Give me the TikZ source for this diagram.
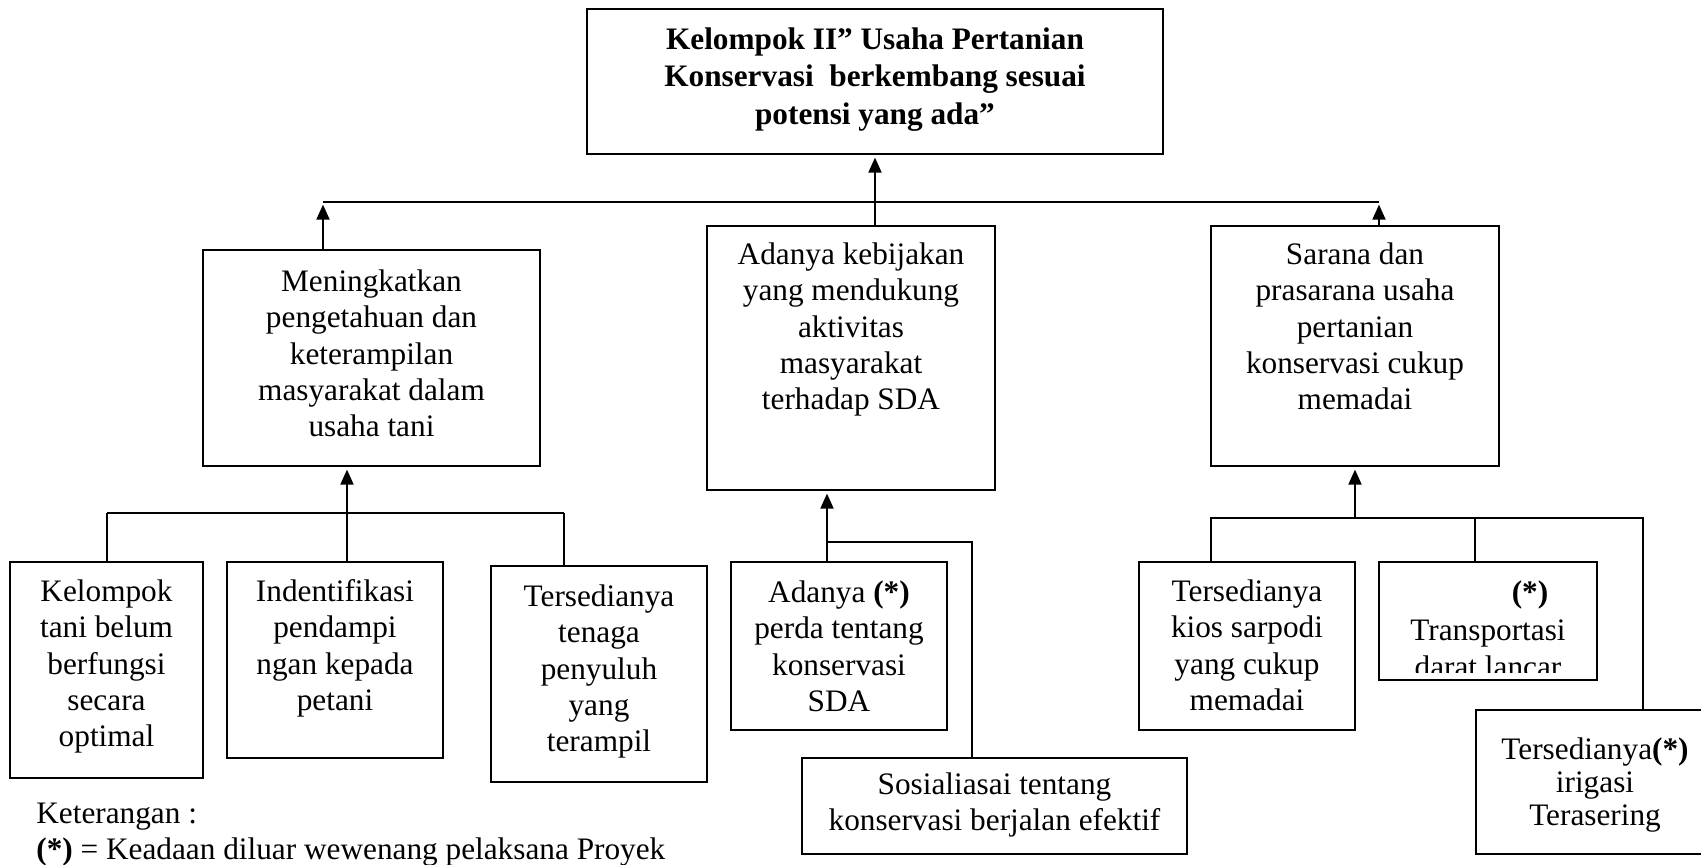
\documentclass[tikz,border=0pt]{standalone}
\usepackage{fontspec}
\setmainfont{Liberation Serif}
\usetikzlibrary{arrows.meta,fit,calc}

% fixed-height strut so that every text block has a known first-line top
\newcommand{\lnstrut}{\rule{0pt}{14.4pt}}
\newcommand{\starmark}{\textbf{(*)}}

\tikzset{
  frame/.style={draw, line width=1.1pt, inner sep=0pt},
  txt/.style={inner sep=0pt, align=center, anchor=north,
              font=\fontsize{17.8}{20.7}\selectfont},
  conn/.style={line width=1.1pt},
  barline/.style={line width=1.7pt},
  arr/.style={conn, -{Triangle[length=0.3cm,width=0.26cm]}, shorten >=1.5pt},
}

\begin{document}
\begin{tikzpicture}[x=0.02cm, y=-0.02cm]
\useasboundingbox (0,0) rectangle (1701,865);
\clip (0,0) rectangle (1701,865);
\fill[white] (0,0) rectangle (1701,865);

% ---------- goal ----------
\node[frame, fit={(587,9) (1163,154)}] (top) {};
\node[txt, font=\bfseries\fontsize{17.8}{21.3}\selectfont] (topT)
  at ($(top.north)+(0,15.7)$)
  {\lnstrut Kelompok II” Usaha Pertanian\\Konservasi~ berkembang sesuai\\potensi yang ada”};

% ---------- second level ----------
\node[frame, fit={(203,250) (540,466)}] (lft) {};
\node[txt] (lftT) at ($(lft.north)+(0,16.7)$)
  {\lnstrut Meningkatkan\\pengetahuan dan\\keterampilan\\masyarakat dalam\\usaha tani};

\node[frame, fit={(707,226) (995,490)}] (mid) {};
\node[txt] (midT) at ($(mid.north)+(0,13.7)$)
  {\lnstrut Adanya kebijakan\\yang mendukung\\aktivitas\\masyarakat\\terhadap SDA};

\node[frame, fit={(1211,226) (1499,466)}] (rgt) {};
\node[txt] (rgtT) at ($(rgt.north)+(0,13.7)$)
  {\lnstrut Sarana dan\\prasarana usaha\\pertanian\\konservasi cukup\\memadai};

% ---------- third level ----------
\node[frame, fit={(10,562) (203,778)}] (kel) {};
\node[txt] (kelT) at ($(kel.north)+(0,14.7)$)
  {\lnstrut Kelompok\\tani belum\\berfungsi\\secara\\optimal};

\node[frame, fit={(227,562) (443,758)}] (ind) {};
\node[txt] (indT) at ($(ind.north)+(0,14.7)$)
  {\lnstrut Indentifikasi\\pendampi\\ngan kepada\\petani};

\node[frame, fit={(491,566) (707,782)}] (ter) {};
\node[txt] (terT) at ($(ter.north)+(0,15.7)$)
  {\lnstrut Tersedianya\\tenaga\\penyuluh\\yang\\terampil};

\node[frame, fit={(731,562) (947,730)}] (ada) {};
\node[txt] (adaT) at ($(ada.north)+(0,15.7)$)
  {\lnstrut Adanya \starmark\\perda tentang\\konservasi\\SDA};

\node[frame, fit={(802,758) (1187,854)}] (sos) {};
\node[txt] (sosT) at ($(sos.north)+(0,11.7)$)
  {\lnstrut Sosialiasai tentang\\konservasi berjalan efektif};

\node[frame, fit={(1139,562) (1355,730)}] (kio) {};
\node[txt] (kioT) at ($(kio.north)+(0,14.7)$)
  {\lnstrut Tersedianya\\kios sarpodi\\yang cukup\\memadai};

\node[frame, fit={(1379,562) (1597,680)}] (tra) {};
\begin{scope}
  \clip (1379,562) rectangle (1597,672);
  \node[txt, font=\fontsize{17.8}{21.5}\selectfont] (traT) at ($(tra.north)+(0,15.7)$)
    {\lnstrut\hspace*{1.68cm}\starmark\\Transportasi\\darat lancar};
\end{scope}

\node[frame, fit={(1476,710) (1714,854)}] (iri) {};
\node[txt, font=\fontsize{17.8}{18.8}\selectfont] (iriT) at ($(iri.north)+(0,24.7)$)
  {\lnstrut Tersedianya\starmark\\irigasi\\Terasering};

% ---------- legend ----------
\node[txt, anchor=north west, align=left] (ket) at (36,797.7)
  {\lnstrut Keterangan :\\\starmark{} = Keadaan diluar wewenang pelaksana Proyek};

% ---------- connectors: second level to goal ----------
\coordinate (barL) at (323,202);
\coordinate (barR) at (1379,202);
\draw[barline] (barL) -- (barR);
\draw[arr] (mid.north -| top.south) -- (top.south);
\draw[arr] (lft.north -| barL) -- (barL);
\draw[arr] (rgt.north -| barR) -- (barR);

% ---------- left group ----------
\coordinate (lbarA) at (107,513);
\coordinate (lbarB) at (564,513);
\coordinate (lbarM) at (347,513);
\draw[barline] (lbarA) -- (lbarB);
\draw[conn] (lbarA) -- (kel.north -| lbarA);
\draw[conn] (lbarB) -- (ter.north -| lbarB);
\draw[arr] (ind.north -| lbarM) -- (lft.south -| lbarM);

% ---------- middle group ----------
\coordinate (mbarA) at (827,542);
\coordinate (mbarB) at (972,542);
\draw[arr] (ada.north -| mbarA) -- (mid.south -| mbarA);
\draw[conn] (sos.north -| mbarB) -- (mbarB) -- (mbarA);

% ---------- right group ----------
\coordinate (rbarA) at (1211,518);
\coordinate (rbarB) at (1643,518);
\coordinate (rbarM) at (1355,518);
\coordinate (rbarT) at (1475,518);
\draw[conn] (kio.north -| rbarA) -- (rbarA) -- (rbarB) -- (iri.north -| rbarB);
\draw[conn] (rbarT) -- (tra.north -| rbarT);
\draw[arr] (rbarM) -- (rgt.south -| rbarM);
\end{tikzpicture}
\end{document}
